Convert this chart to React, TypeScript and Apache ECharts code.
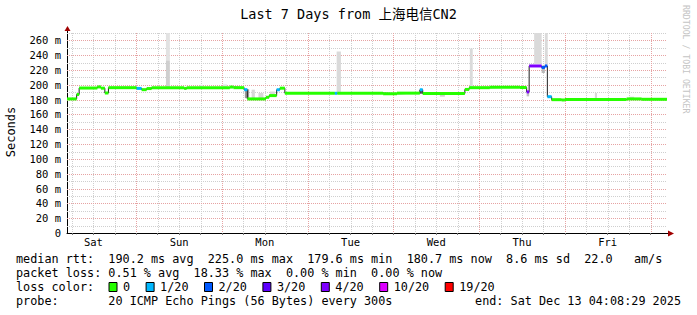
import { useEffect, useRef } from "react";
import * as echarts from "echarts";

// x axis: hours since Sat Dec 6 00:00
const xMin = 4.6;
const xMax = 172.6;
const dayNames = ["Sat", "Sun", "Mon", "Tue", "Wed", "Thu", "Fri"];
const dayLabelHours = [12, 36, 60, 84, 108, 132, 156];
const minorGridHours = [6, 12, 18, 30, 36, 42, 54, 60, 66, 78, 84, 90, 102, 108, 114, 126, 132, 138, 150, 156, 162];
const majorGridHours = [24, 48, 72, 96, 120, 144, 168];
const minorGridValues = [10, 30, 50, 70, 90, 110, 130, 150, 170, 190, 210, 230, 250, 270];
const majorGridValues = [20, 40, 60, 80, 100, 120, 140, 160, 180, 200, 220, 240, 260];

// median rtt (ms) per step; loss index into lossColors
const segStart = [4.6, 7.3, 8.0, 13.1, 14.1, 15.2, 16.2, 24.1, 25.5, 26.9, 28.3, 37.4, 38.1, 50.2, 51.2, 54.2, 55.1, 60.3, 61.2, 63.3, 64.2, 65.6, 79.6, 80.3, 93.1, 97.0, 103.4, 104.2, 116.0, 117.2, 123.0, 131.4, 133.3, 134.0, 137.5, 138.4, 139.1, 140.3, 143.1, 144.0, 161.3, 165.5];
const segMedian = [181, 187, 195.7, 197.2, 195.5, 189, 196.2, 195.2, 193.5, 195, 196.2, 195.2, 196.2, 197, 196.2, 193.5, 181, 183.2, 185.5, 193.4, 195.5, 188.8, 188.6, 188.8, 188, 188.8, 193.4, 188.4, 193.8, 196.2, 196.8, 196.4, 190.5, 225.5, 223.5, 225.5, 184, 180, 179.6, 180.2, 181, 180.5];
const segLoss = [0, 0, 0, 0, 0, 0, 0, 1, 0, 0, 0, 0, 0, 0, 0, 1, 0, 0, 0, 1, 0, 0, 1, 0, 0, 0, 1, 0, 0, 0, 0, 0, 4, 4, 2, 2, 1, 0, 0, 0, 0, 0];

// smoke (ping spread) blocks
const smokeStart = [32.3, 32.3, 41.8, 48.3, 54.4, 56.3, 58.2, 61.4, 80.1, 103.4, 109.0, 117.4, 133.3, 135.4, 137.5, 138.4, 152.4, 162.0];
const smokeEnd = [33.4, 33.4, 42.6, 49.4, 55.6, 57.2, 59.6, 62.8, 81.3, 104.2, 110.4, 118.2, 134.0, 137.5, 138.4, 139.2, 153.0, 163.4];
const smokeLow = [233, 196.5, 196, 196, 182, 182, 182, 186.5, 189, 188, 184, 196, 184.5, 228, 216, 226, 180, 180];
const smokeHigh = [270, 233, 200, 200.5, 194, 193.5, 189, 191, 245, 193, 189, 249, 190, 270, 226, 270, 189, 184];
const smokeShade = ["#e2e2e2", "#cfcfcf", "#e0e0e0", "#e0e0e0", "#9a9a9a", "#d8d8d8", "#d8d8d8", "#d8d8d8", "#dadada", "#555555", "#d0d0d0", "#dadada", "#c0c0c0", "#dadada", "#b8b8b8", "#dadada", "#d8d8d8", "#d8d8d8"];

const lossColors = ["#26ff00", "#00b8ff", "#0059ff", "#5e00ff", "#7e00ff", "#dd00ff", "#ff0000"];
const lossLabels = ["0", "1/20", "2/20", "3/20", "4/20", "10/20", "19/20"];

const titleText = "Last 7 Days from 上海电信CN2";
const rttLine = "median rtt:  190.2 ms avg  225.0 ms max  179.6 ms min  180.7 ms now  8.6 ms sd  22.0   am/s";
const lossLine = "packet loss: 0.51 % avg  18.33 % max  0.00 % min  0.00 % now";
const probeLine = "probe:       20 ICMP Echo Pings (56 Bytes) every 300s";
const endLine = "end: Sat Dec 13 04:08:29 2025";

const MONO = '"DejaVu Sans Mono", "Noto Sans CJK SC", monospace';

export default function App() {
  const ref = useRef<HTMLDivElement>(null);
  useEffect(() => {
    document.body.style.margin = "0";
    const chart = echarts.init(ref.current!, null, { renderer: "svg" });

    const segData = segStart.map((s, i) => [s, i + 1 < segStart.length ? segStart[i + 1] : xMax, segMedian[i], segLoss[i]]);
    const stepData = segStart.map((s, i) => [s, segMedian[i]]);
    stepData.push([xMax, segMedian[segMedian.length - 1]]);
    const smokeData = smokeStart.map((s, i) => [s, smokeEnd[i], smokeLow[i], smokeHigh[i]]);

    const vGrid = [
      ...minorGridHours.map((h) => [h, 0, 0]),
      ...majorGridHours.map((h) => [h, 0, 1]),
    ];
    const hGrid = [
      ...minorGridValues.map((v) => [xMin, v, 0]),
      ...majorGridValues.map((v) => [xMin, v, 1]),
    ];

    const legendChar = 7.1;
    const boxItems: any[] = [];
    let bx = 109;
    lossColors.forEach((c, i) => {
      boxItems.push({ type: "rect", shape: { x: bx, y: 282.5, width: 8, height: 9 }, style: { fill: c, stroke: "#000", lineWidth: 1 } });
      boxItems.push({ type: "text", x: bx + 14, y: 287, style: { text: lossLabels[i], fontFamily: MONO, fontSize: 11.8, fill: "#000", textVerticalAlign: "middle" } });
      bx += 14 + lossLabels[i].length * legendChar + 16;
    });

    chart.setOption({
      animation: false,
      backgroundColor: "#ffffff",
      grid: { left: 67, top: 33, width: 600, height: 200 },
      xAxis: {
        type: "value",
        min: xMin,
        max: xMax,
        splitLine: { show: false },
        axisLine: { show: true, lineStyle: { color: "#000", width: 1 } },
        axisTick: { show: true, customValues: [...minorGridHours, ...majorGridHours], length: 2, lineStyle: { color: "#777" } },
        axisLabel: {
          customValues: dayLabelHours,
          formatter: (v: number) => {
            const i = dayLabelHours.indexOf(Math.round(v));
            return i >= 0 ? dayNames[i] : "";
          },
          fontFamily: MONO,
          fontSize: 10.5,
          color: "#000",
          margin: 4,
        },
      },
      yAxis: {
        type: "value",
        min: 0,
        max: 270,
        interval: 20,
        splitLine: { show: false },
        axisLine: { show: true, lineStyle: { color: "#000", width: 1 } },
        axisTick: { show: false },
        axisLabel: {
          formatter: (v: number) => (v > 260 ? "" : v === 0 ? "0" : v + " m"),
          fontFamily: MONO,
          fontSize: 10.5,
          color: "#000",
          margin: 6,
        },
      },
      series: [
        {
          type: "custom",
          z: 1,
          silent: true,
          clip: true,
          data: vGrid,
          encode: { x: 0, y: 1 },
          renderItem: (params: any, api: any) => {
            const cs = params.coordSys;
            const x = Math.round(api.coord([api.value(0), 0])[0]) + 0.5;
            const major = api.value(2) === 1;
            return {
              type: "line",
              shape: { x1: x, y1: cs.y, x2: x, y2: cs.y + cs.height },
              style: { stroke: major ? "#e6a3a3" : "#cfcfcf", lineWidth: 1, lineDash: [1, 1] },
              z2: major ? 2 : 1,
            };
          },
        },
        {
          type: "custom",
          z: 1,
          silent: true,
          clip: false,
          data: hGrid,
          encode: { x: 0, y: 1 },
          renderItem: (params: any, api: any) => {
            const cs = params.coordSys;
            const y = Math.round(api.coord([xMin, api.value(1)])[1]) + 0.5;
            const major = api.value(2) === 1;
            return {
              type: "line",
              shape: { x1: cs.x, y1: y, x2: cs.x + cs.width, y2: y },
              style: { stroke: major ? "#e6a3a3" : "#cfcfcf", lineWidth: 1, lineDash: [1, 1] },
              z2: major ? 2 : 1,
            };
          },
        },
        {
          type: "custom",
          z: 2,
          silent: true,
          clip: true,
          data: smokeData,
          encode: { x: [0, 1], y: [2, 3] },
          renderItem: (params: any, api: any) => {
            const p1 = api.coord([api.value(0), api.value(3)]);
            const p2 = api.coord([api.value(1), api.value(2)]);
            return {
              type: "rect",
              shape: { x: p1[0], y: p1[1], width: p2[0] - p1[0], height: p2[1] - p1[1] },
              style: { fill: smokeShade[params.dataIndex] },
            };
          },
        },
        {
          type: "line",
          z: 3,
          silent: true,
          step: "end",
          symbol: "none",
          data: stepData,
          lineStyle: { color: "#202020", width: 1 },
        },
        {
          type: "custom",
          z: 4,
          silent: true,
          clip: true,
          data: segData,
          encode: { x: [0, 1], y: 2 },
          renderItem: (params: any, api: any) => {
            const p1 = api.coord([api.value(0), api.value(2)]);
            const p2 = api.coord([api.value(1), api.value(2)]);
            return {
              type: "rect",
              shape: { x: p1[0], y: p1[1] - 1.5, width: p2[0] - p1[0], height: 3 },
              style: { fill: lossColors[api.value(3)] },
            };
          },
        },
      ],
      graphic: [
        { type: "text", x: 348.5, y: 14, style: { text: titleText, fontFamily: MONO, fontSize: 13.5, fill: "#000", textAlign: "center", textVerticalAlign: "middle" } },
        { type: "text", x: 686, y: 5, rotation: -Math.PI / 2, style: { text: "RRDTOOL / TOBI OETIKER", fontFamily: MONO, fontSize: 8.2, fill: "#c4c4c4", textAlign: "left", textVerticalAlign: "middle" } },
        { type: "text", x: 11, y: 132, rotation: Math.PI / 2, style: { text: "Seconds", fontFamily: MONO, fontSize: 12, fill: "#000", textAlign: "center", textVerticalAlign: "middle" } },
        { type: "line", shape: { x1: 67.5, y1: 33, x2: 67.5, y2: 29 }, style: { stroke: "#000", lineWidth: 1 } },
        { type: "polygon", shape: { points: [[64.5, 31], [70.5, 31], [67.5, 26]] }, style: { fill: "#a00000" } },
        { type: "line", shape: { x1: 667, y1: 233.5, x2: 670, y2: 233.5 }, style: { stroke: "#000", lineWidth: 1 } },
        { type: "polygon", shape: { points: [[668, 230.5], [668, 236.5], [674, 233.5]] }, style: { fill: "#a00000" } },
        { type: "text", x: 16, y: 259, style: { text: rttLine, fontFamily: MONO, fontSize: 11.8, fill: "#000", textVerticalAlign: "middle" } },
        { type: "text", x: 16, y: 273, style: { text: lossLine, fontFamily: MONO, fontSize: 11.8, fill: "#000", textVerticalAlign: "middle" } },
        { type: "text", x: 16, y: 287, style: { text: "loss color:", fontFamily: MONO, fontSize: 11.8, fill: "#000", textVerticalAlign: "middle" } },
        ...boxItems,
        { type: "text", x: 16, y: 301, style: { text: probeLine, fontFamily: MONO, fontSize: 11.8, fill: "#000", textVerticalAlign: "middle" } },
        { type: "text", x: 681, y: 301, style: { text: endLine, fontFamily: MONO, fontSize: 11.8, fill: "#000", textAlign: "right", textVerticalAlign: "middle" } },
      ],
    });
    return () => chart.dispose();
  }, []);
  return <div ref={ref} style={{ width: 697, height: 315 }} />;
}
